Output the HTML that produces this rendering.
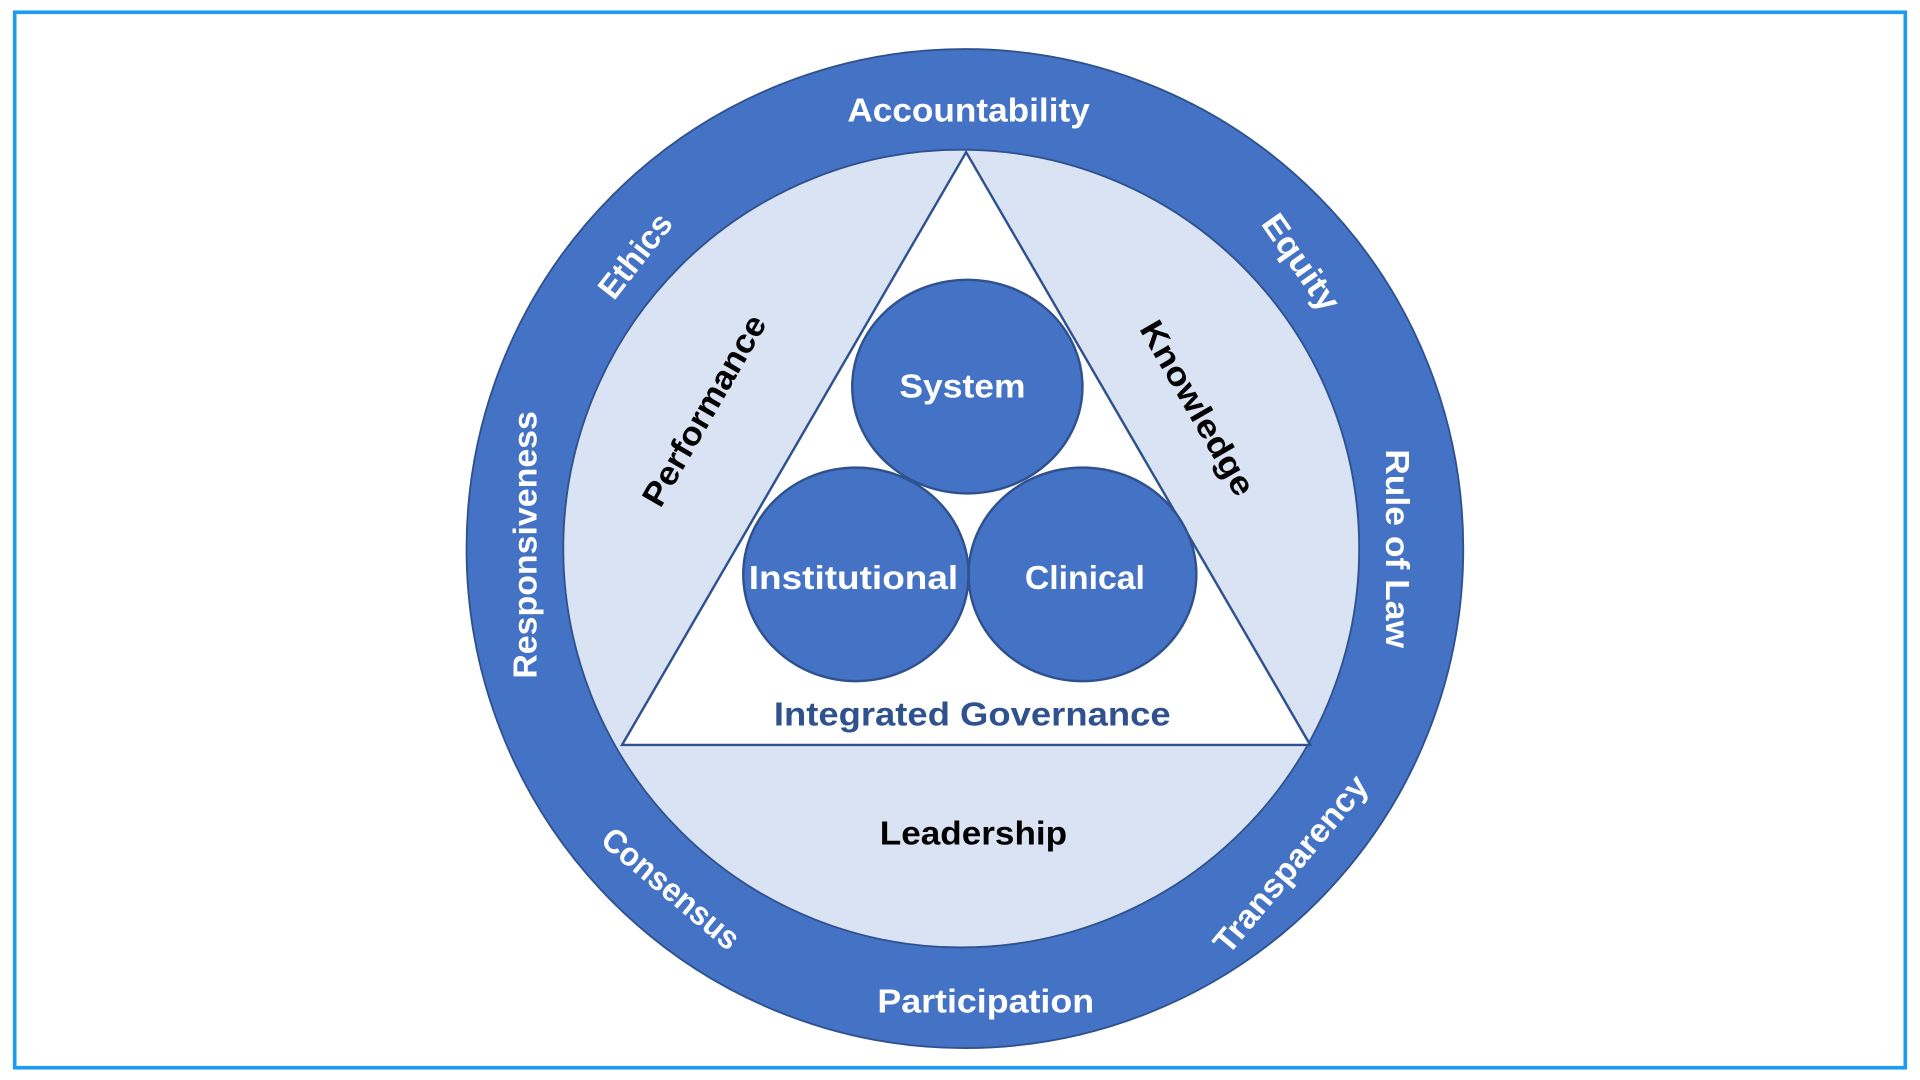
<!DOCTYPE html>
<html><head><meta charset="utf-8"><style>
html,body{margin:0;padding:0;background:#fff;width:1920px;height:1080px;overflow:hidden}
text{font-family:"Liberation Sans",sans-serif;font-weight:bold;font-size:27px}
</style></head><body>
<svg width="1920" height="1080" viewBox="0 0 1568 880" preserveAspectRatio="none">
<rect x="0" y="0" width="1568" height="880" fill="#fff"/>
<rect x="12" y="10" width="1544" height="860" fill="none" stroke="#1e9bf0" stroke-width="3"/>
<ellipse cx="788" cy="447" rx="407" ry="407" fill="#4472c4" stroke="#2f528f" stroke-width="1.5"/>
<circle cx="785" cy="447" r="325" fill="#dae3f3" stroke="#2f528f" stroke-width="1.5"/>
<polygon points="789,124 508,607 1070,607" fill="#fff" stroke="#2f528f" stroke-width="2"/>
<ellipse cx="790" cy="315" rx="94" ry="87" fill="#4472c4" stroke="#2f528f" stroke-width="2"/>
<ellipse cx="699" cy="468" rx="92" ry="87" fill="#4472c4" stroke="#2f528f" stroke-width="2"/>
<ellipse cx="884" cy="468" rx="93" ry="87" fill="#4472c4" stroke="#2f528f" stroke-width="2"/>
<g fill="#fff" text-anchor="middle">
<text x="791" y="99" textLength="198" lengthAdjust="spacingAndGlyphs">Accountability</text>
<text x="805" y="825" textLength="177" lengthAdjust="spacingAndGlyphs">Participation</text>
<text transform="translate(438,444) rotate(-90)" textLength="218" lengthAdjust="spacingAndGlyphs">Responsiveness</text>
<text transform="translate(1132,447) rotate(90)" textLength="162" lengthAdjust="spacingAndGlyphs">Rule of Law</text>
<text transform="translate(526,214) rotate(-52)" textLength="80" lengthAdjust="spacingAndGlyphs">Ethics</text>
<text transform="translate(1055,219) rotate(55)" textLength="90" lengthAdjust="spacingAndGlyphs">Equity</text>
<text transform="translate(542,731) rotate(40)" textLength="138" lengthAdjust="spacingAndGlyphs">Consensus</text>
<text transform="translate(1061,710) rotate(-50)" textLength="180" lengthAdjust="spacingAndGlyphs">Transparency</text>
<text x="786" y="324" textLength="103" lengthAdjust="spacingAndGlyphs">System</text>
<text x="697" y="480" textLength="171" lengthAdjust="spacingAndGlyphs">Institutional</text>
<text x="886" y="480" textLength="98" lengthAdjust="spacingAndGlyphs">Clinical</text>
</g>
<g fill="#000" text-anchor="middle">
<text transform="translate(583,339) rotate(-60)" textLength="175" lengthAdjust="spacingAndGlyphs">Performance</text>
<text transform="translate(970,337) rotate(60)" textLength="160" lengthAdjust="spacingAndGlyphs">Knowledge</text>
<text x="795" y="688" textLength="153" lengthAdjust="spacingAndGlyphs">Leadership</text>
</g>
<text x="794" y="591" fill="#2f528f" text-anchor="middle" textLength="324" lengthAdjust="spacingAndGlyphs">Integrated Governance</text>
</svg>
</body></html>
